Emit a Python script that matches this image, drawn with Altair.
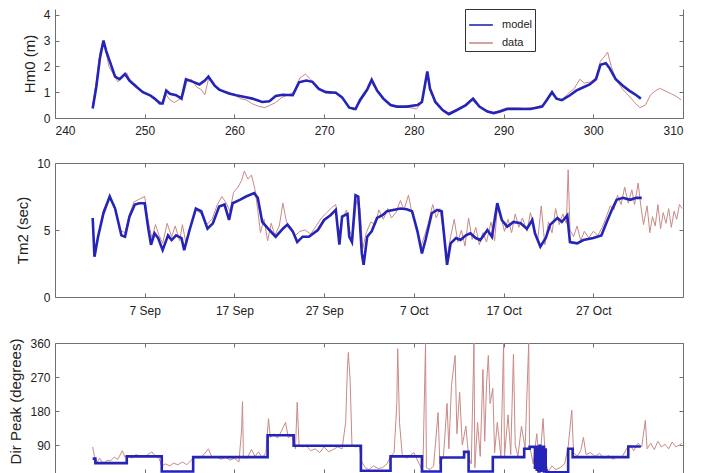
import altair as alt
import pandas as pd

# ---------------- Panel 1 : Hm0 (m) ----------------
hs_model_day = [244.2, 244.6, 245.0, 245.4, 245.7, 246.1, 246.7, 247.2, 247.8, 248.3, 249.1, 249.8,
                250.6, 251.1, 251.7, 252.0, 252.4, 252.8, 253.5, 254.1, 254.6, 255.4, 256.1, 256.7,
                257.1, 257.8, 258.3, 259.4, 260.2, 261.3, 262.0, 263.1, 263.9, 264.6, 265.4, 266.5,
                267.2, 268.0, 268.7, 269.4, 270.2, 271.3, 272.0, 272.8, 273.5, 274.0, 274.8, 275.3,
                275.9, 276.6, 277.4, 278.1, 279.2, 280.4, 280.9, 281.5, 281.8, 282.4, 283.2, 283.9,
                284.8, 285.8, 286.6, 287.3, 288.2, 288.9, 289.6, 290.4, 291.5, 293.0, 294.3, 294.8,
                295.4, 295.9, 296.5, 297.4, 298.1, 298.9, 299.6, 300.3, 300.8, 301.4, 301.8, 302.5,
                303.3, 304.0, 304.8, 305.3]
hs_model_val = [0.37, 1.2, 2.3, 3.0, 2.6, 2.2, 1.6, 1.5, 1.7, 1.45, 1.2, 1.0,
                0.88, 0.75, 0.56, 0.56, 1.06, 0.94, 0.88, 0.75, 1.5, 1.4, 1.3, 1.45,
                1.6, 1.25, 1.1, 0.95, 0.88, 0.8, 0.75, 0.62, 0.65, 0.85, 0.9, 0.88,
                1.38, 1.45, 1.4, 1.13, 1.0, 0.98, 0.8, 0.4, 0.35, 0.7, 1.1, 1.48,
                1.06, 0.75, 0.5, 0.44, 0.44, 0.5, 0.62, 1.8, 1.13, 0.62, 0.31, 0.15,
                0.31, 0.5, 0.75, 0.44, 0.25, 0.19, 0.25, 0.35, 0.35, 0.35, 0.44, 0.69,
                1.0, 0.75, 0.69, 0.88, 1.06, 1.19, 1.3, 1.5, 2.06, 2.12, 1.94, 1.5,
                1.25, 1.06, 0.88, 0.75]
hs_data_day = [244.2, 244.6, 245.0, 245.3, 245.6, 246.0, 246.5, 247.0, 247.5, 248.0, 248.5, 249.0,
               249.6, 250.2, 250.8, 251.4, 251.9, 252.3, 252.8, 253.3, 253.8, 254.3, 254.7, 255.2,
               255.8, 256.3, 256.7, 257.1, 257.6, 258.0, 258.6, 259.3, 260.0, 260.7, 261.3, 262.0,
               262.7, 263.4, 264.0, 264.6, 265.3, 266.0, 266.6, 267.3, 267.9, 268.5, 269.2, 269.9,
               270.6, 271.3, 271.9, 272.6, 273.3, 274.0, 274.7, 275.2, 275.8, 276.5, 277.2, 278.0,
               278.8, 279.6, 280.3, 280.9, 281.4, 281.8, 282.4, 283.1, 283.8, 284.6, 285.5, 286.4,
               287.1, 288.0, 288.8, 289.6, 290.4, 291.4, 292.4, 293.4, 294.3, 294.8, 295.3, 295.8,
               296.5, 297.2, 297.9, 298.5, 299.0, 299.7, 300.3, 300.8, 301.3, 301.6, 302.0, 302.6,
               303.3, 304.0, 304.6, 305.2, 305.8, 306.4, 306.9, 307.4, 308.0, 308.6, 309.2, 309.8]
hs_data_val = [0.5, 1.4, 2.5, 2.9, 2.7, 2.0, 1.7, 1.4, 1.6, 1.75, 1.35, 1.3,
               1.05, 0.95, 0.8, 0.7, 0.6, 0.95, 0.7, 0.6, 0.7, 0.9, 1.4, 1.5,
               1.2, 1.1, 0.9, 1.5, 1.4, 1.2, 1.05, 1.0, 0.9, 0.75, 0.7, 0.55,
               0.45, 0.4, 0.5, 0.6, 0.8, 0.9, 1.0, 1.55, 1.7, 1.5, 1.2, 1.05,
               0.95, 1.0, 0.85, 0.45, 0.3, 0.6, 1.0, 1.4, 1.1, 0.8, 0.55, 0.45,
               0.42, 0.4, 0.35, 0.6, 1.7, 1.2, 0.6, 0.35, 0.2, 0.3, 0.45, 0.7,
               0.5, 0.3, 0.2, 0.3, 0.4, 0.4, 0.38, 0.4, 0.5, 0.65, 0.95, 0.8,
               0.7, 0.95, 1.15, 1.5, 1.35, 1.4, 1.55, 2.2, 2.4, 2.55, 2.0, 1.45,
               1.1, 0.85, 0.6, 0.4, 0.5, 0.9, 1.05, 1.15, 1.05, 0.95, 0.85, 0.7]

# ---------------- Panel 2 : Tm2 (sec) ----------------
tm_model_day = [244.2, 244.4, 244.8, 245.4, 246.1, 246.7, 247.4, 247.8, 248.3, 248.9, 249.4, 250.0,
                250.4, 250.7, 251.1, 251.5, 252.0, 252.6, 253.0, 253.5, 254.1, 254.4, 255.0, 255.7,
                256.3, 257.0, 257.6, 258.3, 258.9, 259.4, 259.8, 260.6, 261.3, 262.2, 262.6, 263.1,
                263.9, 264.6, 265.4, 265.9, 266.5, 267.0, 267.6, 268.3, 269.3, 270.0, 270.7, 271.3,
                271.7, 272.0, 272.6, 272.8, 273.1, 273.5, 273.8, 274.2, 274.4, 274.8, 275.3, 275.9,
                276.5, 277.0, 277.7, 278.5, 279.2, 279.8, 280.4, 280.9, 281.3, 282.0, 282.6, 283.1,
                283.5, 283.7, 284.1, 284.7, 285.2, 285.8, 286.3, 286.9, 287.4, 288.2, 288.7, 289.3,
                289.8, 290.4, 291.1, 291.9, 292.6, 293.2, 293.5, 294.1, 294.7, 295.2, 296.0, 296.5,
                297.1, 297.4, 298.2, 298.9, 300.0, 300.9, 301.5, 302.0, 302.6, 303.3, 304.1, 304.8,
                305.4]
tm_model_val = [5.9, 3.0, 4.5, 6.25, 7.5, 6.6, 4.6, 4.5, 6.0, 6.9, 7.0, 7.0,
                5.1, 3.9, 4.75, 4.4, 3.5, 4.6, 4.25, 4.6, 4.4, 3.5, 5.0, 6.6,
                6.4, 5.1, 5.5, 6.75, 6.9, 5.75, 7.0, 7.25, 7.5, 7.75, 7.4, 5.6,
                5.0, 4.5, 5.1, 5.4, 4.9, 4.1, 4.5, 4.5, 5.0, 5.75, 6.1, 6.5,
                3.9, 6.0, 6.2, 4.5, 4.1, 7.6, 7.5, 3.25, 2.4, 4.5, 4.9, 5.9,
                6.1, 6.4, 6.5, 6.6, 6.55, 6.4, 4.9, 3.25, 4.25, 6.25, 6.5, 6.4,
                3.75, 2.4, 4.0, 4.4, 4.25, 4.6, 4.75, 4.4, 4.25, 5.0, 4.5, 7.0,
                5.75, 5.25, 5.6, 5.5, 5.1, 5.75, 4.75, 3.75, 4.4, 5.4, 5.9, 5.6,
                6.1, 4.1, 4.0, 4.25, 4.4, 4.6, 5.6, 6.4, 7.25, 7.4, 7.25, 7.4,
                7.4]
tm_data_day = [244.2, 244.4, 244.9, 245.4, 246.0, 246.6, 247.2, 247.8, 248.3, 248.8, 249.4, 250.0,
               250.4, 250.8, 251.2, 251.6, 252.0, 252.5, 253.0, 253.4, 253.9, 254.2, 254.6, 255.1,
               255.7, 256.3, 256.9, 257.5, 258.1, 258.6, 259.1, 259.5, 259.9, 260.4, 260.8, 261.1,
               261.5, 261.9, 262.3, 262.6, 262.9, 263.3, 263.7, 264.1, 264.5, 265.0, 265.4, 265.8,
               266.3, 266.8, 267.3, 267.9, 268.5, 269.1, 269.7, 270.3, 270.9, 271.3, 271.6, 272.0,
               272.5, 272.8, 273.2, 273.6, 274.0, 274.3, 274.7, 275.2, 275.7, 276.1, 276.6, 277.1,
               277.5, 278.0, 278.5, 278.9, 279.4, 279.8, 280.3, 280.8, 281.2, 281.6, 282.1, 282.5,
               282.9, 283.3, 283.7, 284.1, 284.5, 284.9, 285.3, 285.7, 286.1, 286.5, 286.9, 287.3,
               287.7, 288.1, 288.6, 289.0, 289.3, 289.7, 290.1, 290.5, 290.9, 291.3, 291.7, 292.1,
               292.6, 293.0, 293.4, 293.8, 294.2, 294.6, 295.0, 295.4, 295.8, 296.2, 296.6, 297.0,
               297.2, 297.4, 297.8, 298.2, 298.6, 299.0, 299.5, 300.0, 300.5, 301.0, 301.4, 301.9,
               302.3, 302.7, 303.1, 303.5, 303.9, 304.3, 304.6, 305.0, 305.3, 305.6, 306.0, 306.3,
               306.6, 306.9, 307.2, 307.5, 307.8, 308.1, 308.4, 308.7, 309.0, 309.3, 309.6, 309.9]
tm_data_val = [5.5, 3.4, 4.8, 6.5, 7.3, 6.9, 5.0, 4.8, 6.2, 7.1, 7.3, 7.5,
               5.6, 4.4, 5.4, 4.6, 4.0, 5.5, 4.5, 5.3, 4.2, 5.4, 4.0, 5.3,
               6.5, 6.2, 5.4, 5.8, 6.9, 7.5, 7.0, 6.4, 7.8, 8.2, 8.7, 9.4,
               8.8, 9.1, 8.0, 6.5, 4.8, 5.8, 4.2, 5.5, 4.6, 5.3, 7.0, 5.6,
               5.2, 4.6, 4.9, 5.0, 4.7, 5.3, 5.9, 6.3, 6.7, 6.9, 4.5, 5.8,
               6.5, 5.0, 4.4, 7.2, 6.6, 3.6, 4.8, 5.6, 5.4, 6.5, 5.8, 6.6,
               5.9, 6.3, 7.2, 6.5, 7.6, 6.2, 5.3, 3.8, 4.6, 5.5, 6.9, 5.9,
               6.6, 4.8, 3.0, 4.5, 5.8, 4.1, 5.0, 3.8, 5.9, 4.3, 5.2, 3.9,
               4.8, 4.1, 5.6, 4.2, 6.6, 6.0, 4.9, 5.8, 4.8, 6.2, 5.2, 5.9,
               4.9, 6.3, 5.0, 4.2, 6.8, 3.9, 5.6, 4.8, 6.6, 5.4, 6.2, 5.5,
               9.5, 5.0, 4.5, 5.3, 4.2, 4.9, 4.4, 4.9, 4.6, 5.2, 5.9, 6.8,
               6.5, 7.6, 6.9, 8.2, 7.0, 8.0, 6.9, 8.5, 6.8, 5.4, 6.8, 4.8,
               6.0, 5.3, 6.9, 5.1, 6.3, 5.5, 6.6, 5.2, 6.4, 5.8, 6.9, 6.6]

# ---------------- Panel 3 : Dir Peak (degrees) ----------------
dir_model_day = [244.2, 244.5, 248.0, 251.9, 255.4, 263.7, 266.6, 274.1, 277.4, 280.9, 283.0, 285.6,
                 286.1, 288.8, 292.3, 292.9, 293.5, 293.6, 293.7, 293.8, 293.9, 294.0, 294.1, 294.2,
                 294.3, 294.4, 294.5, 294.6, 294.7, 294.8, 297.2, 297.7, 303.9, 305.3]
dir_model_val = [54, 42, 60, 20, 58, 116, 88, 22, 60, 20, 57, 72,
                 20, 58, 80, 85, 30, 85, 25, 80, 20, 88, 22, 82,
                 25, 85, 20, 78, 22, 18, 80, 58, 86, 86]
dir_data_day = [244.2, 244.4, 244.7, 245.0, 245.4, 245.8, 246.2, 246.6, 247.0, 247.5, 247.8, 248.2,
                248.6, 249.0, 249.5, 250.0, 250.4, 250.8, 251.2, 251.6, 251.9, 252.3, 252.8, 253.2,
                253.7, 254.2, 254.7, 255.2, 255.6, 256.0, 256.5, 257.1, 257.5, 258.0, 258.5, 259.0,
                259.5, 260.0, 260.5, 260.8, 260.9, 261.0, 261.4, 261.9, 262.3, 262.7, 263.1, 263.5,
                263.8, 264.0, 264.4, 264.8, 265.2, 265.7, 266.0, 266.4, 266.8, 267.0, 267.2, 267.6,
                268.0, 268.5, 269.0, 269.5, 270.0, 270.5, 271.0, 271.5, 272.0, 272.4, 272.6, 272.7,
                272.9, 273.1, 273.5, 273.9, 274.2, 274.6, 275.0, 275.5, 276.0, 276.5, 277.0, 277.4,
                277.8, 278.1, 278.2, 278.4, 278.7, 279.2, 279.6, 280.0, 280.2, 280.6, 281.0, 281.3,
                281.4, 281.8, 282.2, 282.7, 282.9, 283.3, 283.7, 283.9, 284.2, 284.6, 284.8, 285.1,
                285.4, 285.8, 286.1, 286.4, 286.7, 286.8, 287.1, 287.4, 287.7, 287.9, 288.1, 288.3,
                288.5, 288.8, 289.0, 289.3, 289.7, 290.0, 290.1, 290.5, 290.8, 291.1, 291.3, 291.6,
                292.0, 292.4, 292.8, 292.9, 293.3, 293.7, 294.0, 294.4, 294.7, 295.0, 295.4, 295.8,
                296.3, 296.8, 297.2, 297.6, 297.8, 298.2, 298.6, 298.9, 299.2, 299.7, 300.2, 300.7,
                301.2, 301.7, 302.2, 302.7, 303.2, 303.7, 304.1, 304.5, 305.0, 305.4, 305.8, 306.0,
                306.4, 306.8, 307.2, 307.6, 308.0, 308.4, 308.8, 309.2, 309.6, 309.9]
dir_data_val = [85, 60, 45, 55, 40, 50, 48, 58, 52, 75, 58, 62,
                55, 65, 60, 58, 66, 72, 60, 55, 35, 40, 35, 42,
                38, 45, 38, 50, 60, 55, 62, 80, 58, 60, 52, 58,
                50, 55, 45, 130, 205, 60, 55, 78, 60, 72, 55, 70,
                160, 110, 120, 108, 125, 150, 110, 115, 80, 203, 90, 85,
                88, 75, 80, 70, 85, 72, 78, 85, 80, 150, 300, 335,
                260, 90, 85, 88, 45, 30, 25, 35, 28, 30, 40, 60,
                70, 200, 345, 150, 65, 55, 62, 70, 60, 40, 20, 360,
                30, 25, 35, 176, 40, 60, 200, 80, 250, 327, 120, 230,
                90, 140, 60, 40, 360, 30, 150, 60, 290, 100, 250, 327,
                200, 240, 70, 150, 60, 360, 60, 170, 65, 330, 90, 60,
                140, 80, 360, 90, 40, 120, 30, 160, 40, 20, 35, 25,
                30, 40, 85, 182, 70, 60, 75, 110, 65, 70, 60, 68,
                55, 62, 52, 60, 58, 80, 90, 75, 95, 85, 155, 80,
                95, 78, 100, 85, 92, 80, 98, 85, 90, 95]

# ---------------- axes / legend text ----------------
day_ticks = [240, 250, 260, 270, 280, 290, 300, 310]
date_tick_days = [250, 260, 270, 280, 290, 300]
date_tick_labels = ["7 Sep", "17 Sep", "27 Sep", "7 Oct", "17 Oct", "27 Oct"]
hs_ticks = [0, 1, 2, 3, 4]
tm_ticks = [0, 5, 10]
dir_ticks = [90, 180, 270, 360]
series_names = ["model", "data"]
titles = ["Hm0 (m)", "Tm2 (sec)", "Dir Peak (degrees)"]

MODEL_C = "#2424b8"
DATA_C = "#c98a86"
FRAME = "#707070"
FONT = "Liberation Sans"
W = 628

date_expr = "".join(f"datum.value == {d} ? '{t}' : " for d, t in zip(date_tick_days, date_tick_labels)) + "''"

color_scale = alt.Scale(domain=series_names, range=[MODEL_C, DATA_C])


def panel(mday, mval, dday, dval, ydom, yticks, ytitle, height, xlabels, xvals,
          top_frame=True, step=False, legend=None, label_pad=7, title_y=None):
    dm = pd.DataFrame({"day": mday, "v": mval, "series": series_names[0]})
    dd = pd.DataFrame({"day": dday, "v": dval, "series": series_names[1]})
    xs = alt.Scale(domain=[240, 310], nice=False, zero=False)
    ys = alt.Scale(domain=ydom, nice=False, zero=False)

    # layer A: data line + main (labelled) axes + left/bottom frame
    if xlabels == "num":
        xa = alt.Axis(values=xvals, ticks=False, domain=True, domainColor=FRAME, grid=False,
                      title=None, labelPadding=label_pad, format="d")
    elif xlabels == "date":
        xa = alt.Axis(values=xvals, ticks=False, domain=True, domainColor=FRAME, grid=False,
                      title=None, labelPadding=label_pad, labelExpr=date_expr)
    else:
        xa = alt.Axis(values=xvals, ticks=False, labels=False, domain=True, domainColor=FRAME,
                      grid=False, title=None)
    ykw = dict(values=yticks, ticks=False, domain=True, domainColor=FRAME, grid=False,
               title=ytitle, labelPadding=5, titlePadding=6)
    if title_y is not None:
        ykw["titleY"] = title_y
    ya = alt.Axis(**ykw)
    col_a = alt.Color("series:N", scale=color_scale, legend=legend)
    col_b = alt.Color("series:N", scale=color_scale, legend=None)

    la = alt.Chart(dd).mark_line(strokeWidth=1, clip=True).encode(
        x=alt.X("day:Q", scale=xs, axis=xa),
        y=alt.Y("v:Q", scale=ys, axis=ya),
        color=col_a,
    )
    # layer B: model line + inward ticks left/bottom
    lb = alt.Chart(dm).mark_line(strokeWidth=2.6, clip=True,
                                 interpolate="step-after" if step else "linear").encode(
        x=alt.X("day:Q", scale=xs, axis=alt.Axis(orient="bottom", offset=-4, values=xvals,
                                                 labels=False, domain=False, ticks=True, tickSize=4,
                                                 tickColor=FRAME, grid=False, title=None)),
        y=alt.Y("v:Q", scale=ys, axis=alt.Axis(orient="left", offset=-4, values=yticks,
                                               labels=False, domain=False, ticks=True, tickSize=4,
                                               tickColor=FRAME, grid=False, title=None)),
        color=col_b,
    )
    # layer C: right/top frame
    lc = alt.Chart(dm).mark_line(strokeOpacity=0).encode(
        x=alt.X("day:Q", scale=xs, axis=alt.Axis(orient="top", values=xvals, labels=False,
                                                 domain=top_frame, domainColor=FRAME, ticks=False,
                                                 grid=False, title=None)),
        y=alt.Y("v:Q", scale=ys, axis=alt.Axis(orient="right", values=yticks, labels=False,
                                               domain=True, domainColor=FRAME, ticks=False,
                                               grid=False, title=None)),
    )
    # layer D: inward ticks right/top
    xd = (alt.Axis(orient="top", offset=-4, values=xvals, labels=False, domain=False, ticks=True,
                   tickSize=4, tickColor=FRAME, grid=False, title=None) if top_frame else None)
    ld = alt.Chart(dm).mark_line(strokeOpacity=0).encode(
        x=alt.X("day:Q", scale=xs, axis=xd),
        y=alt.Y("v:Q", scale=ys, axis=alt.Axis(orient="right", offset=-4, values=yticks,
                                               labels=False, domain=False, ticks=True, tickSize=4,
                                               tickColor=FRAME, grid=False, title=None)),
    )
    return alt.layer(la, lb, lc, ld).resolve_axis(x="independent", y="independent").properties(
        width=W, height=height)


legend = alt.Legend(title=None, orient="none", legendX=410, legendY=0, symbolType="stroke",
                    symbolSize=560, symbolStrokeWidth=1.6, labelFontSize=11, labelFont=FONT,
                    strokeColor="#333333", fillColor="white", padding=3, rowPadding=0,
                    labelOffset=8, labelColor="#222222")

p1 = panel(hs_model_day, hs_model_val, hs_data_day, hs_data_val, [0, 4.22], hs_ticks, titles[0],
           109, "num", day_ticks, top_frame=False, legend=legend, label_pad=7)
p2 = panel(tm_model_day, tm_model_val, tm_data_day, tm_data_val, [0, 10], tm_ticks, titles[1],
           134, "date", date_tick_days, label_pad=8)
p3 = panel(dir_model_day, dir_model_val, dir_data_day, dir_data_val, [16, 360], dir_ticks, titles[2],
           130, "none", date_tick_days, step=True, title_y=58)

chart = alt.vconcat(p1, p2, p3, spacing=21).properties(padding=0).configure_view(
    stroke=None).configure_axis(
    labelFont=FONT, labelFontSize=12, labelColor="#222222", titleFont=FONT, titleFontSize=15,
    titleFontWeight="normal", titleColor="#222222").configure_legend(orient="none")

chart.save("out.html", embed_options={"renderer": "svg", "actions": False})
